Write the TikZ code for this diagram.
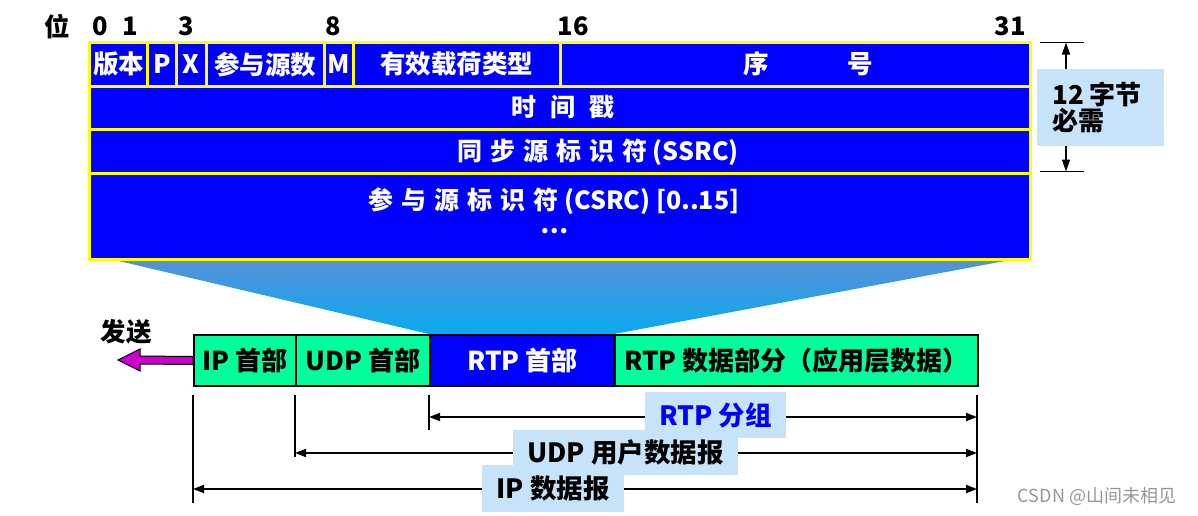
\documentclass[tikz,border=0pt]{standalone}
\usepackage{fontspec}
\setmainfont{Noto Sans CJK SC}
\usetikzlibrary{arrows.meta,calc}
\definecolor{hblue}{RGB}{0,0,255}
\definecolor{hyellow}{RGB}{255,255,0}
\definecolor{pgreen}{RGB}{0,255,155}
\definecolor{lblue}{RGB}{198,227,250}
\definecolor{amag}{RGB}{204,0,204}
\definecolor{fantop}{RGB}{88,145,214}
\definecolor{fanbot}{RGB}{8,170,240}
\definecolor{wmgray}{RGB}{150,150,150}
\newcommand\fsz[1]{\fontsize{#1}{#1}\selectfont}
\begin{document}
\begin{tikzpicture}[x=1pt,y=-1pt,
  cell/.style={draw=hyellow, line width=3pt, fill=hblue, inner sep=0pt, anchor=north west,
    text=white, font=\bfseries\fsz{25.5}, minimum height=43.5pt},
  wt/.style={text=white, font=\bfseries\fsz{25}, inner sep=0pt},
  bit/.style={font=\bfseries\fsz{25.5}, inner sep=0pt},
  pkt/.style={draw=black, line width=2pt, fill=pgreen, inner sep=0pt, anchor=north west,
    minimum height=51pt, font=\bfseries\fsz{26}},
  lab/.style={fill=lblue, inner sep=0pt, font=\bfseries\fsz{26.5}},
  dim/.style={line width=1.6pt, draw=black},
  dimarr/.style={line width=1.8pt, draw=black, {Triangle[length=11pt,width=8pt]}-{Triangle[length=11pt,width=8pt]}},
  varr/.style={line width=1.3pt, draw=black, -{Triangle[length=12pt,width=8pt]}}
]
\useasboundingbox (0,0) rectangle (1198,515);

% fan
\shade[top color=fantop, bottom color=fanbot] (106,258) -- (1021,258) -- (614,334) -- (429,334) -- cycle;

% bit numbers
\node[bit] (wei) at (57,27) {位};
\node[bit] (b0) at (100,26) {0};
\node[bit] (b1) at (130,26) {1};
\node[bit] (b3) at (186,26) {3};
\node[bit] (b8) at (333,26) {8};
\node[bit] (b16) at (573,26) {16};
\node[bit] (b31) at (1010,26) {31};

% header cells
\node[cell, minimum width=58pt] (ver) at (88,41) {版本};
\node[cell, minimum width=29pt] (pp) at (146,41) {P};
\node[cell, minimum width=29.5pt] (xx) at (175,41) {X};
\node[cell, minimum width=118.5pt] (cc) at (204.5,41) {参与源数};
\node[cell, minimum width=29pt] (mm) at (323,41) {M};
\node[cell, minimum width=206.5pt] (ptype) at (352,41) {有效载荷类型};
\node[cell, minimum width=470.5pt] (seq) at (558.5,41) {};
\node[cell, minimum width=941pt] (ts) at (88,84.5) {};
\node[cell, minimum width=941pt, minimum height=44pt] (ssrc) at (88,128) {};
\node[cell, minimum width=941pt, minimum height=86pt] (csrc) at (88,172) {};

\node[wt, font=\bfseries\fsz{25.5}] (seqt) at (808,64) {序\hspace{78pt}号};
\node[wt] (tst) at (563,107) {时\hspace{14pt}间\hspace{14pt}戳};
\node[wt] (ssrct) at (598,152) {同\hspace{8pt}步\hspace{8pt}源\hspace{8pt}标\hspace{8pt}识\hspace{8pt}符 (SSRC)};
\node[wt] (csrct) at (554,201) {参\hspace{8pt}与\hspace{8pt}源\hspace{8pt}标\hspace{8pt}识\hspace{8pt}符 (CSRC) [0..15]};
\node[wt] (dots) at (555,231) {…};

% 12 bytes
\coordinate (dt1) at (1040,42.5);
\coordinate (dt2) at (1084,42.5);
\coordinate (db1) at (1040,171.5);
\coordinate (db2) at (1084,171.5);
\draw[dim] (dt1) -- (dt2);
\draw[dim] (db1) -- (db2);
\node[fill=lblue, inner sep=0pt, anchor=north west, minimum width=127pt, minimum height=77pt] (need) at (1037,69) {};
\node[font=\bfseries\fsz{26}, anchor=west, align=left, inner sep=0pt] (needt) at (1052,107)
  {\fontsize{26}{31}\selectfont 12 字节\\必需};
\coordinate (vtop) at (1066,69);
\coordinate (vbot) at (1066,146);
\draw[varr] (vtop) -- (1066,42.5);
\draw[varr] (vbot) -- (1066,171.5);

% packet
\node[pkt, minimum width=102pt] (ip) at (193,334) {IP 首部};
\node[pkt, minimum width=134pt] (udp) at (295,334) {UDP 首部};
\node[pkt, minimum width=185pt, fill=hblue, text=white] (rtp) at (429,334) {RTP 首部};
\node[pkt, minimum width=363pt] (data) at (614,334) {RTP 数据部分（应用层数据）};

% send arrow
\node[font=\bfseries\fsz{25.5}, inner sep=0pt] (send) at (126,332) {发送};
\draw[fill=amag, draw=black, line width=1pt] (ip.west) ++(0,-4) -- (140,356) -- (140,349) -- (118,360) -- (140,371) -- (140,364) -- ($(ip.west)+(0,4)$) -- cycle;

% dimension lines
\coordinate (v1t) at (193,395); \coordinate (v1b) at (193,503);
\coordinate (v2t) at (295,395); \coordinate (v2b) at (295,457);
\coordinate (v3t) at (429,395); \coordinate (v3b) at (429,430);
\coordinate (v4t) at (977,395); \coordinate (v4b) at (977,503);
\draw[dim] (v1t) -- (v1b);
\draw[dim] (v2t) -- (v2b);
\draw[dim] (v3t) -- (v3b);
\draw[dim] (v4t) -- (v4b);
\coordinate (a1l) at (429,417); \coordinate (a1r) at (977,417);
\coordinate (a2l) at (295,453); \coordinate (a2r) at (977,453);
\coordinate (a3l) at (193,489); \coordinate (a3r) at (977,489);
\draw[dimarr] (a1l) -- (a1r);
\draw[dimarr] (a2l) -- (a2r);
\draw[dimarr] (a3l) -- (a3r);

\node[lab, minimum width=225pt, minimum height=45pt] (udpl) at (625.5,452.5) {UDP 用户数据报};
\node[lab, minimum width=141pt, minimum height=46pt, text=hblue] (rtpl) at (715.5,415) {RTP 分组};
\node[lab, minimum width=142pt, minimum height=47pt] (ipl) at (553,488.5) {IP 数据报};

% watermark
\node[text=wmgray, font=\fsz{18}, inner sep=0pt] (wm) at (1097,496) {CSDN @山间未相见};
\end{tikzpicture}
\end{document}
